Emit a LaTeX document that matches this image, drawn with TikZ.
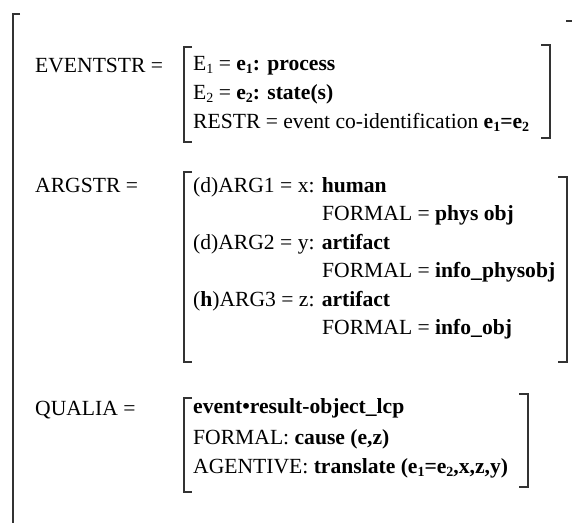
\documentclass[tikz,border=0pt]{standalone}
\usepackage{fontspec}
\setmainfont{Liberation Serif}[
  BoldFont={Liberation Serif Bold},
  ItalicFont={Liberation Serif Italic},
  BoldItalicFont={Liberation Serif Bold Italic}]
\newcommand{\lsub}[1]{\raisebox{-0.32ex}{\fontsize{14}{14}\selectfont #1}}
\begin{document}
\begin{tikzpicture}[x=1pt,y=-1pt]
\tikzset{
  txt/.style={anchor=base west, inner sep=0pt, font=\fontsize{21.6}{22}\selectfont},
  brk/.style={line width=1.3pt, color=black!80, line cap=butt},
}
\useasboundingbox (0,0) rectangle (572,523);

% outer feature structure bracket
\draw[brk] (20,14) -- (13,14) -- (13,523);
\draw[brk] (566,21) -- (572,21);

% EVENTSTR
\node[txt] (evl) at (35,72) {EVENTSTR =};
\node[txt] (ev1) at (193,70) {E\lsub{1} = \textbf{e\lsub{1}: process}};
\node[txt] (ev2) at (193,99) {E\lsub{2} = \textbf{e\lsub{2}: state(s)}};
\node[txt] (ev3) at (193,128) {RESTR = event co-identification \textbf{e\lsub{1}=e\lsub{2}}};
\draw[brk] (192,47) -- (184,47) -- (184,142) -- (192,142);
\draw[brk] (541,45) -- (550,45) -- (550,138) -- (541,138);

% ARGSTR
\node[txt] (agl) at (35,192) {ARGSTR =};
\node[txt] (ag1) at (193,192) {(d)ARG1 = x: \textbf{human}};
\node[txt] (ag1f) at (322,220) {FORMAL = \textbf{phys obj}};
\node[txt] (ag2) at (193,249) {(d)ARG2 = y: \textbf{artifact}};
\node[txt] (ag2f) at (322,277) {FORMAL = \textbf{info\_physobj}};
\node[txt] (ag3) at (193,306) {(\textbf{h})ARG3 = z: \textbf{artifact}};
\node[txt] (ag3f) at (322,334) {FORMAL = \textbf{info\_obj}};
\draw[brk] (192,172) -- (184,172) -- (184,362) -- (192,362);
\draw[brk] (558,177) -- (567,177) -- (567,362) -- (558,362);

% QUALIA
\node[txt] (qul) at (35,415) {QUALIA =};
\node[txt] (qu1) at (193,413) {\textbf{event\textbullet result-object\_lcp}};
\node[txt] (qu2) at (193,444) {FORMAL: \textbf{cause (e,z)}};
\node[txt] (qu3) at (193,473) {AGENTIVE: \textbf{translate (e\lsub{1}=e\lsub{2},x,z,y)}};
\draw[brk] (192,398) -- (184,398) -- (184,492) -- (192,492);
\draw[brk] (519,394) -- (528,394) -- (528,487) -- (519,487);
\end{tikzpicture}
\end{document}
